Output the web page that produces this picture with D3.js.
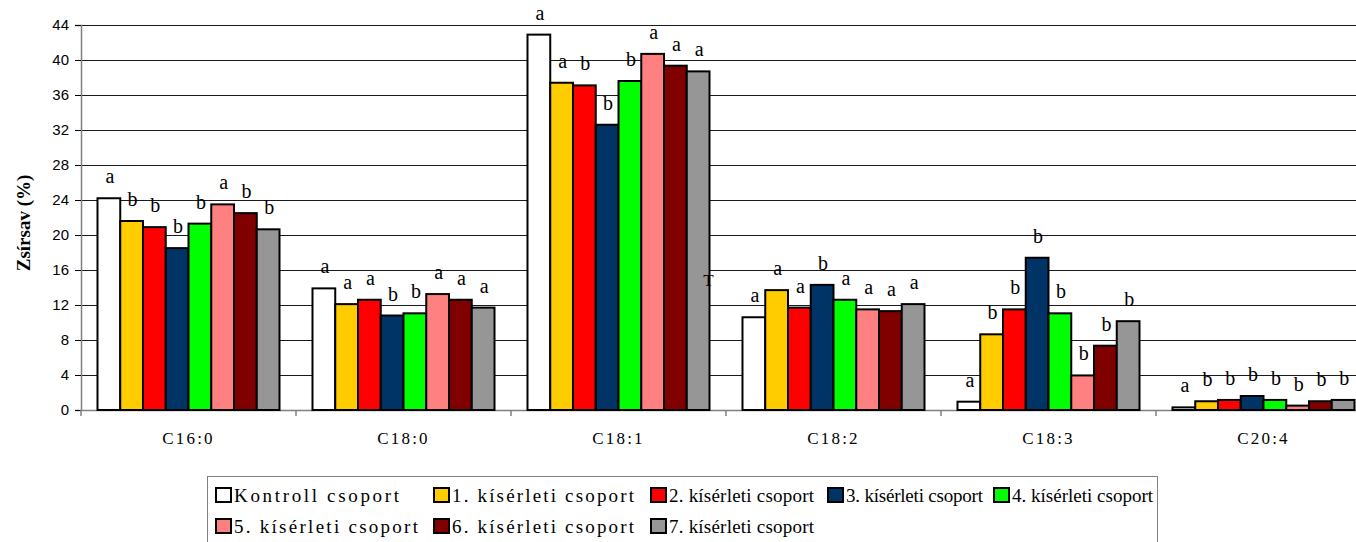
<!DOCTYPE html>
<html>
<head>
<meta charset="utf-8">
<script src="https://cdn.jsdelivr.net/npm/d3@7/dist/d3.min.js"></script>
<style>
  html, body { margin: 0; padding: 0; background: #fff; overflow: hidden; }
  svg { display: block; }
  .serif { font-family: "Liberation Serif", "DejaVu Serif", "Times New Roman", serif; }
  .sans { font-family: "Liberation Sans", Arial, sans-serif; }
</style>
</head>
<body>
<svg id="chart" width="1356" height="542"></svg>
<script>
// Fatty acid categories
const categories = ["C16:0", "C18:0", "C18:1", "C18:2", "C18:3", "C20:4"];

// Groups (series)
const groups = [
  "Kontroll csoport",
  "1. kísérleti csoport",
  "2. kísérleti csoport",
  "3. kísérleti csoport",
  "4. kísérleti csoport",
  "5. kísérleti csoport",
  "6. kísérleti csoport",
  "7. kísérleti csoport"
];
const colors = ["#FFFFFF", "#FFCC00", "#FF0000", "#003366", "#00FF00", "#FF8080", "#800000", "#969696"];

// Values (%) per group, in category order
const kontroll = [24.2, 13.9, 42.9, 10.6, 0.95, 0.3];
const group1   = [21.6, 12.1, 37.4, 13.7, 8.65, 1.0];
const group2   = [20.9, 12.6, 37.1, 11.7, 11.5, 1.15];
const group3   = [18.5, 10.8, 32.6, 14.3, 17.4, 1.6];
const group4   = [21.3, 11.05, 37.6, 12.6, 11.05, 1.15];
const group5   = [23.5, 13.25, 40.7, 11.5, 3.95, 0.5];
const group6   = [22.5, 12.6, 39.35, 11.3, 7.35, 1.0];
const group7   = [20.65, 11.7, 38.7, 12.1, 10.15, 1.15];
const seriesValues = [kontroll, group1, group2, group3, group4, group5, group6, group7];

// Significance letters per category (group order)
const letters = [
  ["a", "b", "b", "b", "b", "a", "b", "b"],
  ["a", "a", "a", "b", "b", "a", "a", "a"],
  ["a", "a", "b", "b", "b", "a", "a", "a"],
  ["a", "a", "a", "b", "a", "a", "a", "a"],
  ["a", "b", "b", "b", "b", "b", "b", "b"],
  ["a", "b", "b", "b", "b", "b", "b", "b"]
];

const yTicks = [0, 4, 8, 12, 16, 20, 24, 28, 32, 36, 40, 44];

const svg = d3.select("#chart");
const plotLeft = 81, plotRight = 1371, plotTop = 25, plotBottom = 410;

const x = d3.scaleBand().domain(categories).range([plotLeft, plotRight]).padding(0);
const xi = d3.scaleBand().domain(d3.range(groups.length))
  .range([0, x.bandwidth()]).paddingInner(0).paddingOuter(0.725);
const y = d3.scaleLinear().domain([0, 44]).range([plotBottom, plotTop]);

// Horizontal gridlines
svg.append("g")
  .selectAll("line")
  .data(yTicks.filter(d => d > 0))
  .join("line")
  .attr("x1", plotLeft).attr("x2", plotRight)
  .attr("y1", d => Math.round(y(d)) + 0.5).attr("y2", d => Math.round(y(d)) + 0.5)
  .attr("stroke", "#1a1a1a").attr("stroke-width", 1);

// Y axis
const yAxis = svg.append("g")
  .attr("transform", `translate(${plotLeft},0)`)
  .call(d3.axisLeft(y).tickValues(yTicks).tickSize(6).tickPadding(6).tickFormat(d3.format("d")));
yAxis.attr("font-family", null);
yAxis.select(".domain").attr("stroke", "#808080").attr("stroke-width", 1.5);
yAxis.selectAll(".tick line").attr("stroke", "#000");
yAxis.selectAll(".tick text").attr("class", "sans").attr("font-size", 15).attr("fill", "#000");

// X axis
const xAxis = svg.append("g")
  .attr("transform", `translate(0,${plotBottom})`)
  .call(d3.axisBottom(x).tickSize(0).tickPadding(22));
xAxis.attr("font-family", null);
xAxis.select(".domain").attr("stroke", "#808080").attr("stroke-width", 1.5);
xAxis.selectAll(".tick text")
  .attr("class", "serif").attr("font-size", 17).attr("letter-spacing", "2.2px").attr("fill", "#000");

// Category separator ticks
svg.append("g")
  .selectAll("line")
  .data(d3.range(categories.length + 1))
  .join("line")
  .attr("x1", i => plotLeft + i * x.step()).attr("x2", i => plotLeft + i * x.step())
  .attr("y1", plotBottom).attr("y2", plotBottom + 6)
  .attr("stroke", "#808080").attr("stroke-width", 1.5);

// Bars and significance letters
const cats = svg.append("g")
  .selectAll("g")
  .data(categories)
  .join("g")
  .attr("transform", d => `translate(${x(d)},0)`);

cats.selectAll("rect")
  .data((c, ci) => seriesValues.map((vals, gi) => ({ gi, v: vals[ci] })))
  .join("rect")
  .attr("x", d => xi(d.gi))
  .attr("width", xi.bandwidth())
  .attr("y", d => y(d.v))
  .attr("height", d => plotBottom - y(d.v))
  .attr("fill", d => colors[d.gi])
  .attr("stroke", "#000")
  .attr("stroke-width", 2);

cats.selectAll("text")
  .data((c, ci) => seriesValues.map((vals, gi) => ({ gi, v: vals[ci], l: letters[ci][gi] })))
  .join("text")
  .attr("class", "serif")
  .attr("x", d => xi(d.gi) + xi.bandwidth() / 2 + 1)
  .attr("y", d => y(d.v) - 15)
  .attr("text-anchor", "middle")
  .attr("font-size", 20).attr("fill", "#000")
  .text(d => d.l);

// Stray mark beside the last C18:1 bar
svg.append("text")
  .attr("class", "serif")
  .attr("x", x("C18:1") + xi(7) + xi.bandwidth() - 1)
  .attr("y", 286)
  .attr("text-anchor", "middle")
  .attr("font-size", 17).attr("fill", "#000")
  .text("T");

// Y axis title
svg.append("text")
  .attr("class", "serif")
  .attr("transform", "translate(30,223) rotate(-90)")
  .attr("text-anchor", "middle")
  .attr("font-size", 19).attr("font-weight", "bold").attr("fill", "#000")
  .text("Zsírsav (%)");

// Legend
const legend = svg.append("g");
legend.append("rect")
  .attr("x", 207.5).attr("y", 476.5).attr("width", 950).attr("height", 80)
  .attr("fill", "#fff").attr("stroke", "#808080").attr("stroke-width", 1);

const legendX = [215, 433, 650, 827, 993, 215, 433, 650];
const legendRow = [0, 0, 0, 0, 0, 1, 1, 1];
const legendTextW = [165, 182, 145, 137, 141, 184, 182, 145];

const items = legend.selectAll("g.item")
  .data(groups.map((g, i) => ({ g, i })))
  .join("g")
  .attr("class", "item")
  .attr("transform", d => `translate(${legendX[d.i]},${487 + legendRow[d.i] * 31})`);

items.append("rect")
  .attr("x", 1).attr("y", 1).attr("width", 15).attr("height", 14)
  .attr("fill", d => colors[d.i]).attr("stroke", "#000").attr("stroke-width", 2);

items.append("text")
  .attr("class", "serif")
  .attr("x", 19).attr("y", 15)
  .attr("font-size", 19).attr("fill", "#000")
  .attr("textLength", d => legendTextW[d.i]).attr("lengthAdjust", "spacing")
  .text(d => d.g);
</script>
</body>
</html>
